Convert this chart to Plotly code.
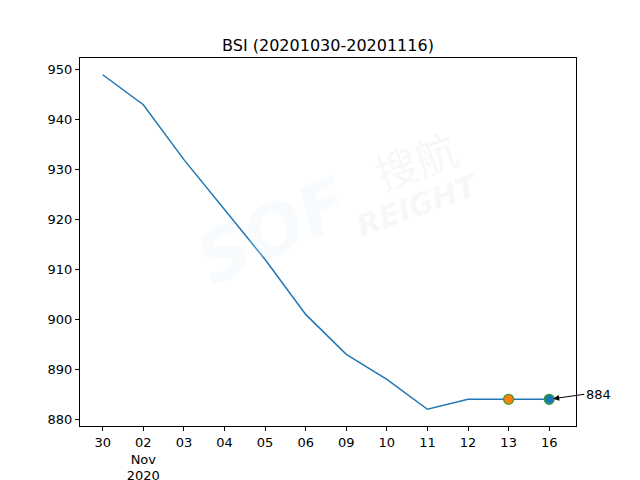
import plotly.graph_objects as go

dates = ["2020-10-30", "2020-11-02", "2020-11-03", "2020-11-04", "2020-11-05", "2020-11-06",
         "2020-11-09", "2020-11-10", "2020-11-11", "2020-11-12", "2020-11-13", "2020-11-16"]
tick_labels = ["30", "02<br>Nov<br>2020", "03", "04", "05", "06", "09", "10", "11", "12", "13", "16"]
bsi = [949, 943, 932, 922, 912, 901, 893, 888, 882, 884, 884, 884]
title = "BSI (20201030-20201116)"

font = "DejaVu Sans, Liberation Sans, sans-serif"
fig = go.Figure()
fig.add_trace(go.Scatter(x=list(range(len(dates))), y=bsi, mode="lines",
                         line=dict(color="#1f77b4", width=1.5), showlegend=False))
fig.add_trace(go.Scatter(x=[len(dates) - 2], y=[bsi[-2]], mode="markers",
                         marker=dict(color="#ff7f0e", size=10, line=dict(color="#2ca02c", width=1.2)),
                         showlegend=False))
fig.add_trace(go.Scatter(x=[len(dates) - 1], y=[bsi[-1]], mode="markers",
                         marker=dict(color="#1f77b4", size=10, line=dict(color="#2ca02c", width=1.2)),
                         showlegend=False))

# watermark
fig.add_annotation(text="<i><b>SOF</b></i>", xref="paper", yref="paper", x=0.39, y=0.53,
                   xanchor="center", yanchor="middle",
                   showarrow=False, textangle=-25, font=dict(size=70, color="rgba(225,235,248,0.22)", family=font))
fig.add_annotation(text="搜航", xref="paper", yref="paper", x=0.675, y=0.725,
                   xanchor="center", yanchor="middle",
                   showarrow=False, textangle=-20, font=dict(size=42, color="rgba(225,225,232,0.25)", family="Noto Sans CJK SC"))
fig.add_annotation(text="<i><b>REIGHT</b></i>", xref="paper", yref="paper", x=0.68, y=0.60,
                   xanchor="center", yanchor="middle",
                   showarrow=False, textangle=-20, font=dict(size=30, color="rgba(225,225,232,0.25)", family=font))

fig.add_annotation(x=len(dates) - 1, y=bsi[-1], text=str(bsi[-1]), showarrow=True,
                   ax=35, ay=-5, axref="pixel", ayref="pixel", arrowhead=2, arrowsize=1.2,
                   arrowwidth=1, arrowcolor="black", standoff=4, xanchor="left",
                   font=dict(size=13, color="black", family=font))

fig.update_layout(
    width=640, height=480,
    margin=dict(l=80, r=64, t=58, b=54, autoexpand=False),
    paper_bgcolor="white", plot_bgcolor="white",
    title=dict(text=title, xref="paper", x=0.5, xanchor="center", y=1 - 45 / 480, yanchor="middle",
               font=dict(size=16, color="black", family=font)),
    font=dict(family=font, size=13, color="black"),
    xaxis=dict(range=[-0.56, len(dates) - 0.34], tickmode="array", automargin=False,
               tickvals=list(range(len(dates))), ticktext=tick_labels,
               showgrid=False, zeroline=False, showline=True, linecolor="black", linewidth=1,
               mirror=True, ticks="outside", ticklen=4, tickcolor="black", tickangle=0),
    yaxis=dict(range=[878.65, 952.35], tickmode="array", automargin=False,
               tickvals=[880, 890, 900, 910, 920, 930, 940, 950],
               showgrid=False, zeroline=False, showline=True, linecolor="black", linewidth=1,
               mirror=True, ticks="outside", ticklen=4, tickcolor="black"),
)
fig.write_html("out.html", config={"displayModeBar": False},
               post_script="document.body.style.margin='0';")
